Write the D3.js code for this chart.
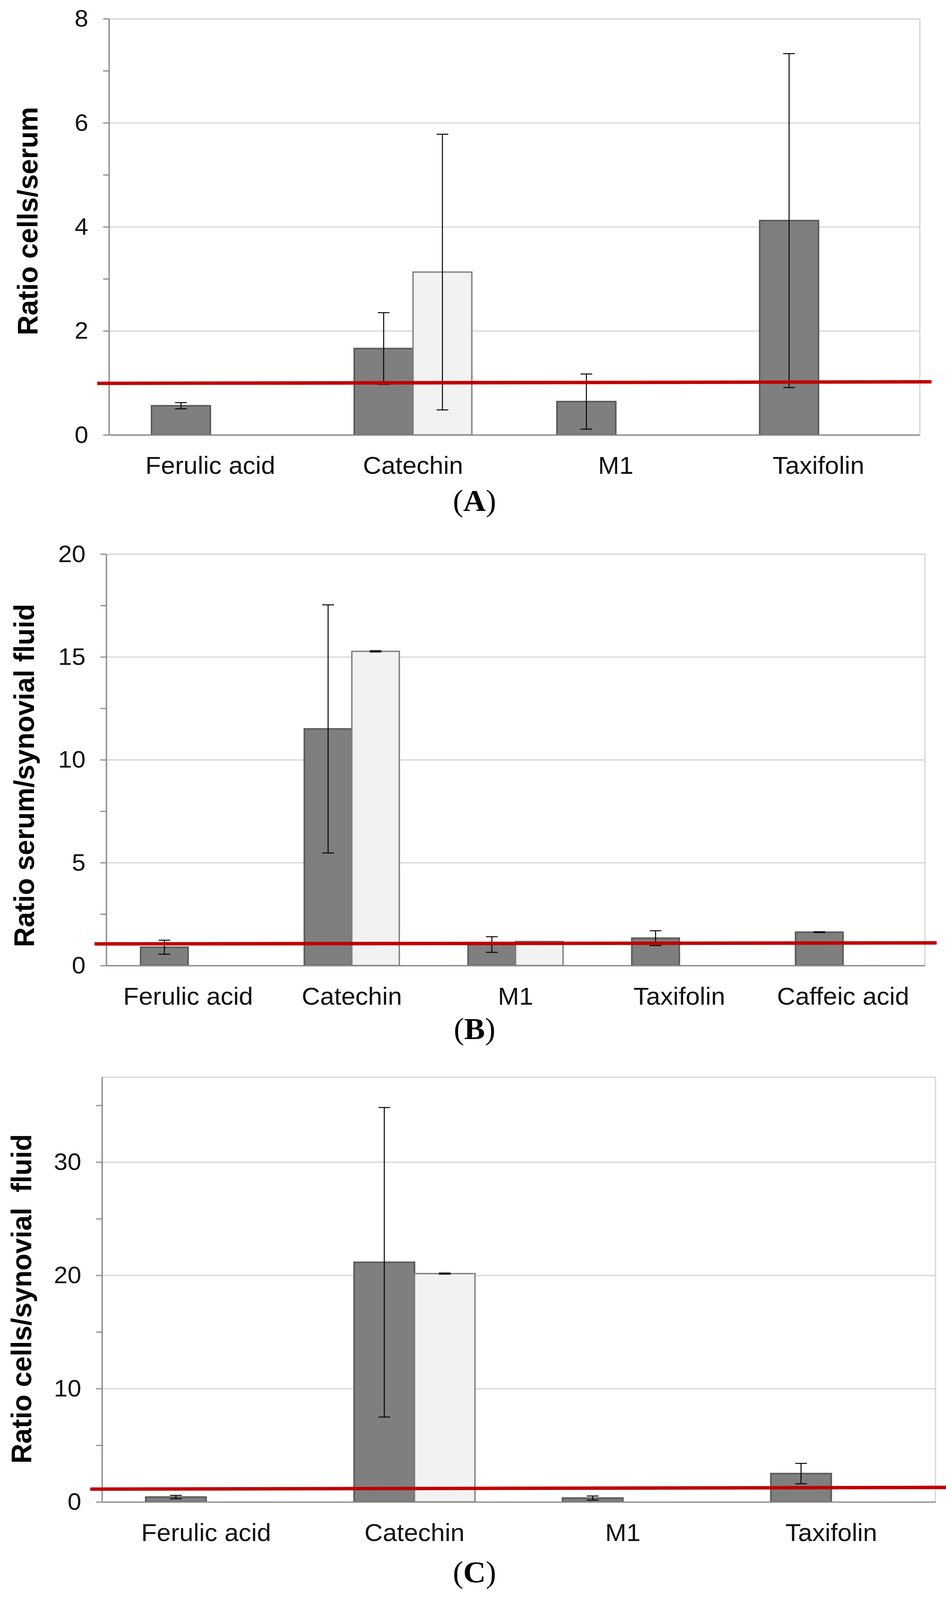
<!DOCTYPE html>
<html>
<head>
<meta charset="utf-8">
<script src="https://cdn.jsdelivr.net/npm/d3@7"></script>
<style>
  html, body { margin: 0; padding: 0; background: #fff; overflow: hidden; }
  svg { display: block; width: 100vw; height: 100vh; }
  text { font-family: "Liberation Sans", Arial, sans-serif; }
</style>
</head>
<body>
<div id="chart"></div>
<script>
// Panel A: ratio cells/serum
var catsA = ["Ferulic acid", "Catechin", "M1", "Taxifolin"];
var darkA = [0.56, 1.66, 0.64, 4.12];
var darkErrA = [0.06, 0.69, 0.53, 3.21];
var lightA = [null, 3.13, null, null];
var lightErrA = [null, 2.65, null, null];
var ticksA = [0, 2, 4, 6, 8];
var minorA = [1, 3, 5, 7];
var refA = [0.99, 1.02];

// Panel B: ratio serum/synovial fluid
var catsB = ["Ferulic acid", "Catechin", "M1", "Taxifolin", "Caffeic acid"];
var darkB = [0.89, 11.5, 1.02, 1.33, 1.62];
var darkErrB = [0.34, 6.03, 0.38, 0.36, 0.02];
var lightB = [null, 15.27, 1.17, null, null];
var lightErrB = [null, 0.03, 0, null, null];
var ticksB = [0, 5, 10, 15, 20];
var minorB = [2.5, 7.5, 12.5, 17.5];
var refB = [1.05, 1.10];

// Panel C: ratio cells/synovial fluid
var catsC = ["Ferulic acid", "Catechin", "M1", "Taxifolin"];
var darkC = [0.43, 21.15, 0.34, 2.5];
var darkErrC = [0.15, 13.66, 0.18, 0.9];
var lightC = [null, 20.15, null, null];
var lightErrC = [null, 0.05, null, null];
var ticksC = [0, 10, 20, 30];
var minorC = [5, 15, 25, 35];
var refC = [1.13, 1.28];

var svgWidth = 2422;
var svgHeight = 4176;

var panels = [
  { cats: catsA, dark: darkA, darkErr: darkErrA, light: lightA, lightErr: lightErrA,
    ticks: ticksA, minor: minorA, max: 8, ref: refA,
    title: "Ratio cells/serum", label: "A",
    left: 279, right: 2355, top: 49, bottom: 1135, titleX: 96, titleY: 577, labelY: 1334 },
  { cats: catsB, dark: darkB, darkErr: darkErrB, light: lightB, lightErr: lightErrB,
    ticks: ticksB, minor: minorB, max: 20, ref: refB,
    title: "Ratio serum/synovial fluid", label: "B",
    left: 272, right: 2368, top: 1446, bottom: 2520, titleX: 87, titleY: 2024, labelY: 2712 },
  { cats: catsC, dark: darkC, darkErr: darkErrC, light: lightC, lightErr: lightErrC,
    ticks: ticksC, minor: minorC, max: 37.5, ref: refC,
    title: "Ratio cells/synovial\u00a0 fluid", label: "C",
    left: 261, right: 2395, top: 2811, bottom: 3920, titleX: 80, titleY: 3390, labelY: 4130 }
];

// viewBox keeps the whole figure inside the window even if the viewport is a bit short
var svg = d3.select("#chart")
  .append("svg")
  .attr("viewBox", `0 0 ${svgWidth} ${svgHeight}`)
  .attr("preserveAspectRatio", "none")
  .style("background", "#fff");

panels.forEach(function(p) {
  var width = p.right - p.left;
  var height = p.bottom - p.top;

  var g = svg.append("g")
    .attr("transform", `translate(${p.left}, ${p.top})`);

  var x = d3.scaleBand()
    .domain(p.cats)
    .range([0, width])
    .padding(0);

  var y = d3.scaleLinear()
    .domain([0, p.max])
    .range([height, 0]);

  // each bar takes ~29% of a category slot, Excel style
  var bw = x.bandwidth() * 0.29;

  // gridlines
  g.append("g")
    .attr("class", "grid")
    .call(d3.axisLeft(y).tickValues(p.ticks.filter(d => d > 0).concat([p.max])).tickSize(-width).tickFormat(""))
    .call(s => s.select(".domain").remove())
    .selectAll("line")
    .attr("stroke", "#d9d9d9")
    .attr("stroke-width", 3.5);

  // right border
  g.append("line")
    .attr("x1", width).attr("x2", width)
    .attr("y1", 0).attr("y2", height)
    .attr("stroke", "#d9d9d9")
    .attr("stroke-width", 3.5);

  // bars
  var rows = p.cats.map(function(c, i) {
    return { cat: c, dark: p.dark[i], darkErr: p.darkErr[i], light: p.light[i], lightErr: p.lightErr[i] };
  });

  g.selectAll(".darkBar")
    .data(rows.filter(d => d.dark !== null))
    .enter()
    .append("rect")
    .attr("class", "darkBar")
    .attr("x", d => x(d.cat) + x.bandwidth() / 2 - bw)
    .attr("y", d => y(d.dark))
    .attr("width", bw)
    .attr("height", d => y(0) - y(d.dark))
    .attr("fill", "#7f7f7f")
    .attr("stroke", "#5a5a5a")
    .attr("stroke-width", 4);

  g.selectAll(".lightBar")
    .data(rows.filter(d => d.light !== null))
    .enter()
    .append("rect")
    .attr("class", "lightBar")
    .attr("x", d => x(d.cat) + x.bandwidth() / 2)
    .attr("y", d => y(d.light))
    .attr("width", bw)
    .attr("height", d => y(0) - y(d.light))
    .attr("fill", "#f2f2f2")
    .attr("stroke", "#7f7f7f")
    .attr("stroke-width", 3.5);

  // error bars
  var errs = [];
  rows.forEach(function(d) {
    if (d.dark !== null && d.darkErr) errs.push({ cx: x(d.cat) + x.bandwidth() / 2 - bw / 2, v: d.dark, e: d.darkErr });
    if (d.light !== null && d.lightErr) errs.push({ cx: x(d.cat) + x.bandwidth() / 2 + bw / 2, v: d.light, e: d.lightErr });
  });

  var errGroup = g.selectAll(".err")
    .data(errs)
    .enter()
    .append("g")
    .attr("class", "err")
    .attr("stroke", "#000")
    .attr("stroke-width", 2.5);

  errGroup.append("line")
    .attr("x1", d => d.cx).attr("x2", d => d.cx)
    .attr("y1", d => y(d.v - d.e)).attr("y2", d => y(d.v + d.e));
  errGroup.append("line")
    .attr("x1", d => d.cx - 15).attr("x2", d => d.cx + 15)
    .attr("y1", d => y(d.v + d.e)).attr("y2", d => y(d.v + d.e));
  errGroup.append("line")
    .attr("x1", d => d.cx - 15).attr("x2", d => d.cx + 15)
    .attr("y1", d => y(d.v - d.e)).attr("y2", d => y(d.v - d.e));

  // minor ticks
  g.append("g")
    .call(d3.axisLeft(y).tickValues(p.minor).tickSize(15).tickFormat(""))
    .call(s => s.select(".domain").remove())
    .selectAll("line")
    .attr("stroke", "#8c8c8c")
    .attr("stroke-width", 3);

  // y axis with major ticks
  var yAxis = g.append("g")
    .call(d3.axisLeft(y).tickValues(p.ticks).tickSize(15).tickPadding(38).tickSizeOuter(0));
  yAxis.select(".domain")
    .attr("stroke", "#8c8c8c")
    .attr("stroke-width", 3.5);
  yAxis.selectAll(".tick line")
    .attr("stroke", "#8c8c8c")
    .attr("stroke-width", 3);
  yAxis.selectAll(".tick text")
    .attr("font-size", "63px")
    .attr("font-family", "'Liberation Sans', Arial, sans-serif")
    .attr("fill", "#111");

  // x axis
  var xAxis = g.append("g")
    .attr("transform", `translate(0, ${height})`)
    .call(d3.axisBottom(x).tickSize(0).tickPadding(56));
  xAxis.select(".domain")
    .attr("stroke", "#8c8c8c")
    .attr("stroke-width", 3.5);
  xAxis.selectAll(".tick text")
    .attr("font-size", "65px")
    .attr("font-family", "'Liberation Sans', Arial, sans-serif")
    .attr("fill", "#111");

  // reference line at ratio 1 (hand drawn in the original, slightly tilted)
  g.append("line")
    .attr("x1", -30)
    .attr("x2", width + 30)
    .attr("y1", y(p.ref[0]))
    .attr("y2", y(p.ref[1]))
    .attr("stroke", "#c00000")
    .attr("stroke-width", 9);

  // y axis title
  svg.append("text")
    .attr("transform", `translate(${p.titleX}, ${p.titleY}) rotate(-90)`)
    .attr("text-anchor", "middle")
    .attr("font-size", "72px")
    .attr("font-weight", "bold")
    .attr("fill", "#000")
    .text(p.title);

  // panel label
  var lab = svg.append("text")
    .attr("x", 1215)
    .attr("y", p.labelY)
    .attr("text-anchor", "middle")
    .attr("font-size", "80px")
    .style("font-family", "'Liberation Serif', 'Times New Roman', serif")
    .attr("fill", "#000");
  lab.append("tspan").text("(");
  lab.append("tspan").attr("font-weight", "bold").text(p.label);
  lab.append("tspan").text(")");
});
</script>
</body>
</html>
